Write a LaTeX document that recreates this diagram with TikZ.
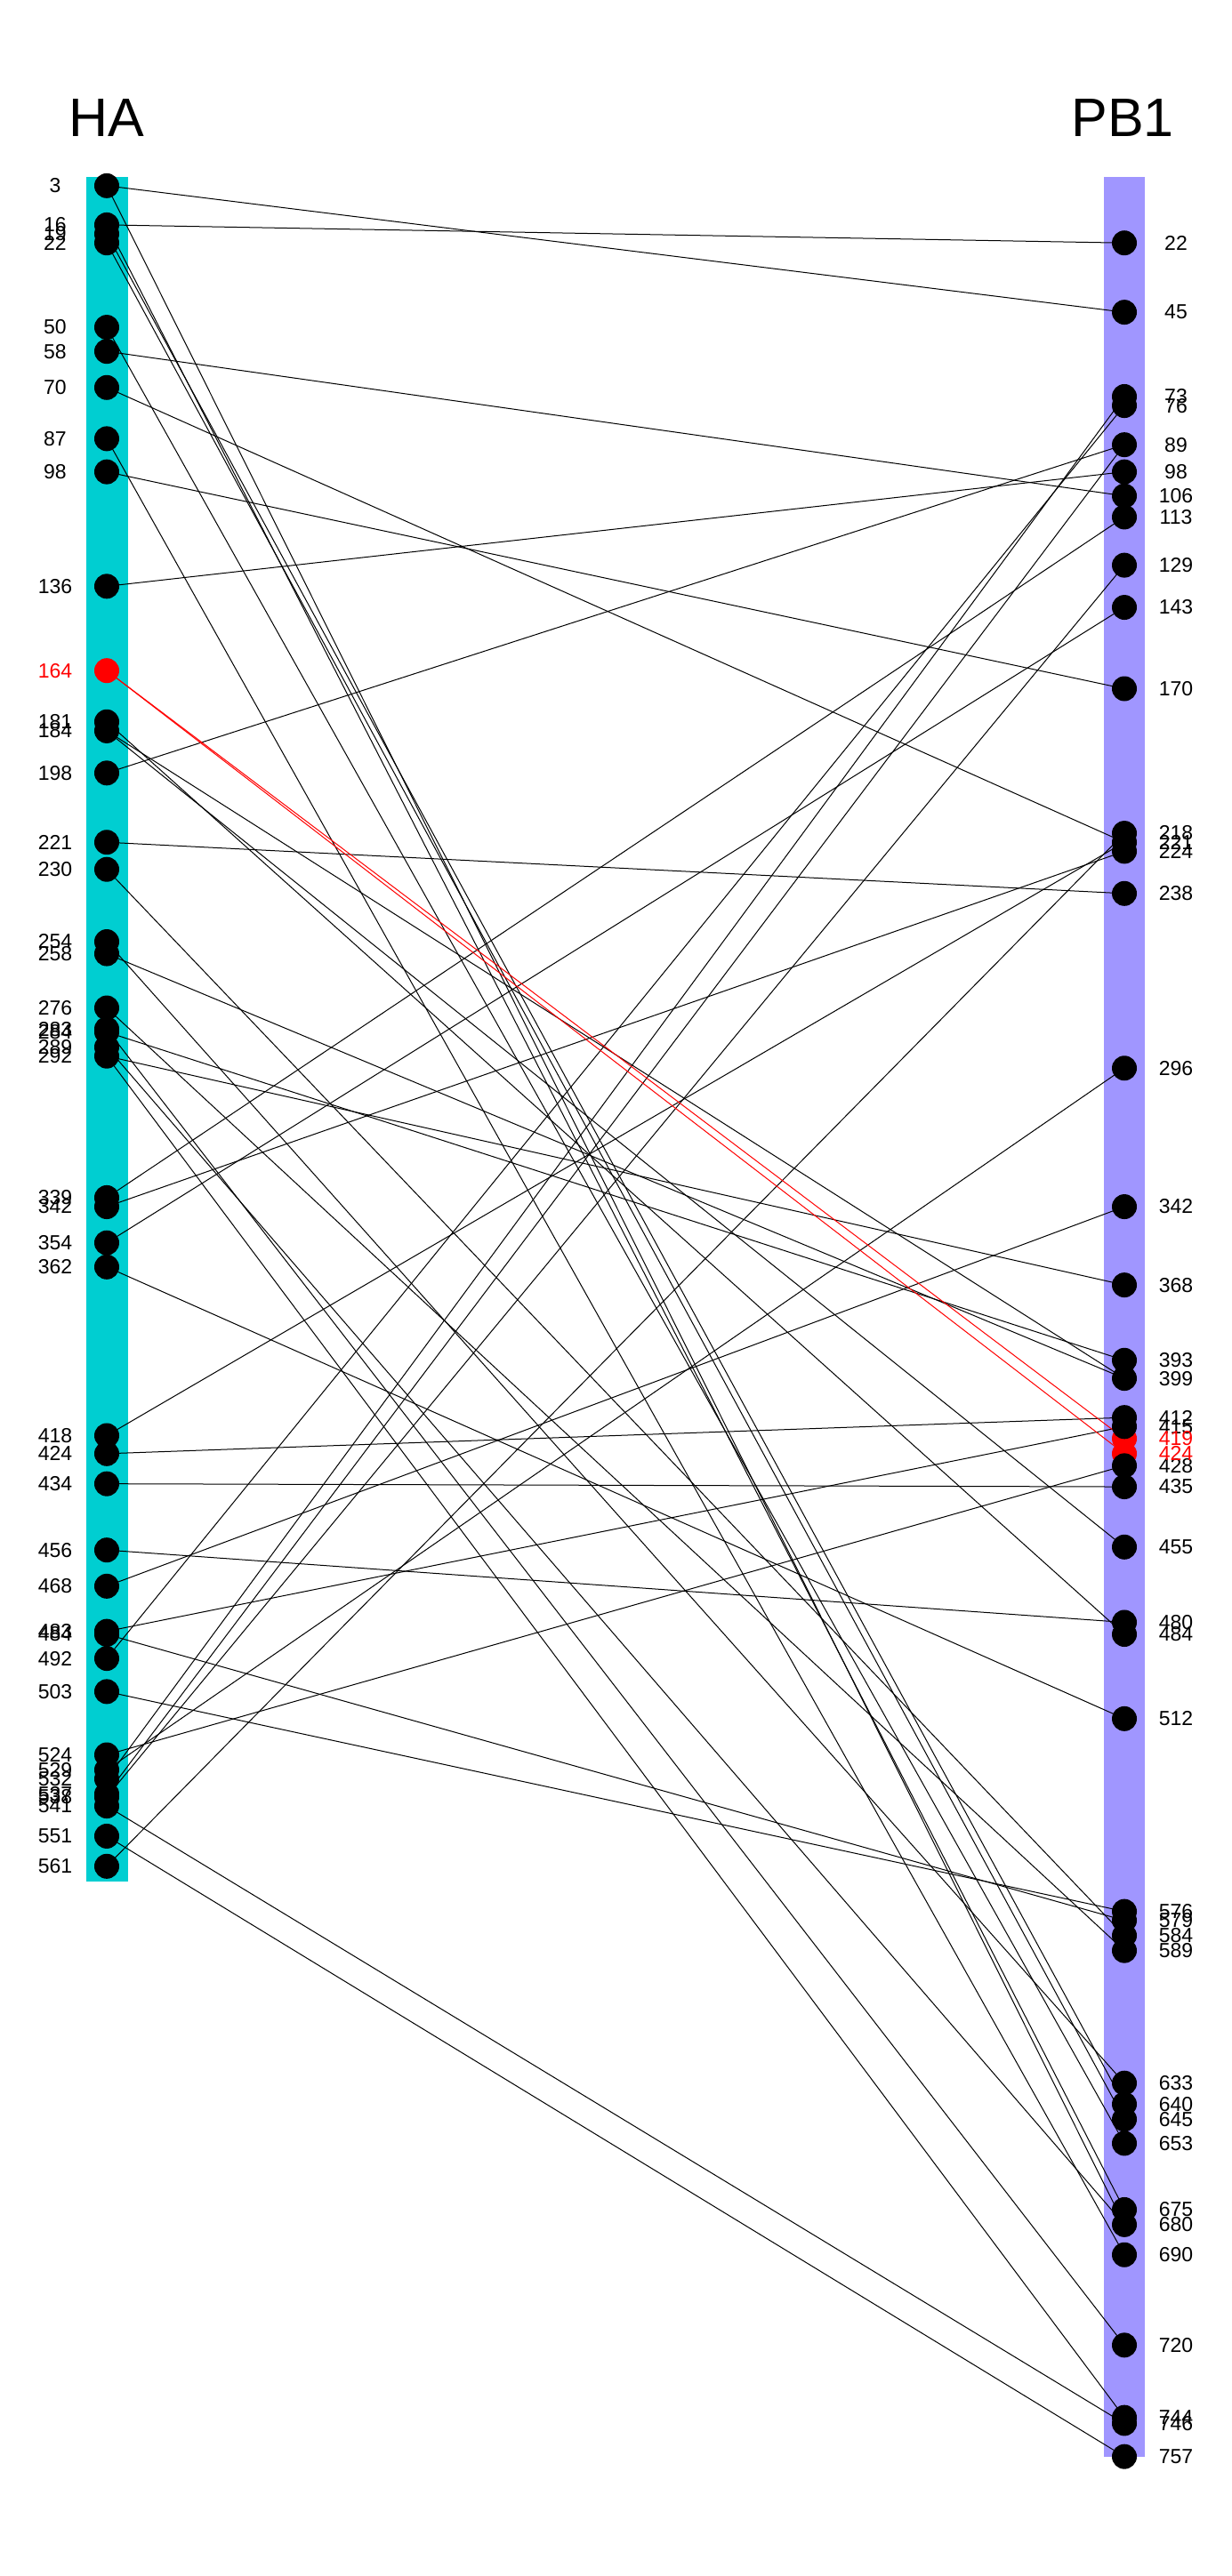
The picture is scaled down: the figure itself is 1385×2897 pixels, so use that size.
\documentclass[tikz,border=0pt]{standalone}
\usepackage{fontspec}
\setmainfont{Liberation Sans}
\definecolor{habar}{RGB}{0,206,209}
\definecolor{pbbar}{RGB}{160,150,255}
\begin{document}
\begin{tikzpicture}[x=0.5pt,y=-0.5pt,
  conn/.style={line width=0.5pt,black},
  redconn/.style={line width=0.5pt,red},
  dot/.style={circle,fill=black,inner sep=0pt,minimum size=14pt},
  reddot/.style={circle,fill=red,inner sep=0pt,minimum size=14pt},
  lab/.style={font=\fontsize{11.5}{13}\selectfont,inner sep=0pt},
  redlab/.style={lab,text=red},
  ttl/.style={font=\fontsize{30.5}{34}\selectfont,inner sep=0pt}]
\fill[white] (0,0) rectangle (1385,2897);
\useasboundingbox (0,0) rectangle (1385,2897);
% bars
\fill[habar] (97,198.7) rectangle (144,2115.7);
\fill[pbbar] (1241,198.7) rectangle (1287,2762.7);
% titles
\node[ttl] (tHA) at (120,133) {HA};
\node[ttl] (tPB) at (1262,133) {PB1};
% positions
\foreach \n in {3,16,19,22,50,58,70,87,98,136,164,181,184,198,221,230,254,258,276,283,284,289,292,339,342,354,362,418,424,434,456,468,483,484,492,503,524,529,532,537,538,541,551,561}
  \coordinate (h\n) at (120,{198.7+3.387*\n});
\foreach \n in {22,45,73,76,89,98,106,113,129,143,170,218,221,224,238,296,342,368,393,399,412,415,419,424,428,435,455,480,484,512,576,579,584,589,633,640,645,653,675,680,690,720,744,746,757}
  \coordinate (p\n) at (1264,{198.7+3.387*\n});
% connectors
\foreach \a/\b in {3/45,3/680,16/22,16/675,19/640,22/645,50/653,58/106,70/221,87/690,98/170,136/98,181/484,184/399,184/455,198/89,221/238,230/584,254/633,258/399,276/589,283/720,284/393,289/680,292/368,292/744,339/113,342/224,354/143,362/512,418/221,424/412,434/435,456/480,468/342,483/415,484/579,492/76,503/576,524/428,529/296,532/73,537/89,538/129,541/746,551/757,561/218}
  \draw[conn] (h\a) -- (p\b);
\draw[redconn] (h164) -- (p419);
\draw[redconn] (h164) -- (p424);
% dots
\node[reddot] (hd164) at (h164) {};
\node[reddot] (pd419) at (p419) {};
\node[reddot] (pd424) at (p424) {};
\foreach \n in {3,16,19,22,50,58,70,87,98,136,181,184,198,221,230,254,258,276,283,284,289,292,339,342,354,362,418,424,434,456,468,483,484,492,503,524,529,532,537,538,541,551,561}
  \node[dot] (hd\n) at (h\n) {};
\foreach \n in {22,45,73,76,89,98,106,113,129,143,170,218,221,224,238,296,342,368,393,399,412,415,428,435,455,480,484,512,576,579,584,589,633,640,645,653,675,680,690,720,744,746,757}
  \node[dot] (pd\n) at (p\n) {};
% labels
\foreach \n in {3,16,19,22,50,58,70,87,98,136,181,184,198,221,230,254,258,276,283,284,289,292,339,342,354,362,418,424,434,456,468,483,484,492,503,524,529,532,537,538,541,551,561}
  \node[lab] (hl\n) at (62,{198.7+3.387*\n}) {\n};
\node[redlab] (hl164) at (62,{198.7+3.387*164}) {164};
\foreach \n in {22,45,73,76,89,98,106,113,129,143,170,218,221,224,238,296,342,368,393,399,412,415,428,435,455,480,484,512,576,579,584,589,633,640,645,653,675,680,690,720,744,746,757}
  \node[lab] (pl\n) at (1322,{198.7+3.387*\n}) {\n};
\node[redlab] (pl419) at (1322,{198.7+3.387*419}) {419};
\node[redlab] (pl424) at (1322,{198.7+3.387*424}) {424};
\end{tikzpicture}
\end{document}
